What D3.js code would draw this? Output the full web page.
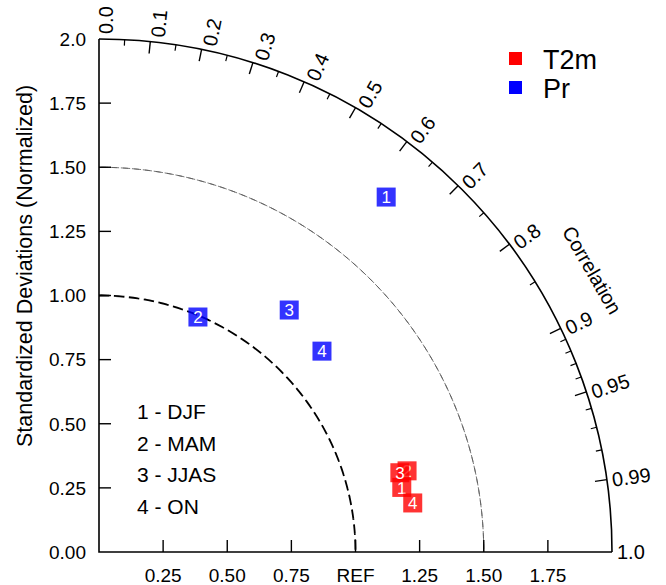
<!DOCTYPE html>
<html>
<head>
<meta charset="utf-8">
<script src="https://cdn.jsdelivr.net/npm/d3@7"></script>
<style>
  html, body { margin: 0; padding: 0; background: #fff; }
  svg { display: block; font-family: "Liberation Sans", Arial, sans-serif; }
</style>
</head>
<body>
<svg id="chart" width="666" height="585"></svg>
<script>
// taylor diagram data: normalized std dev + correlation per season
var seasons = ["1", "2", "3", "4"];
var seasonNames = ["1 - DJF", "2 - MAM", "3 - JJAS", "4 - ON"];
var t2mStd = [1.207, 1.242, 1.213, 1.238];
var t2mCor = [0.978, 0.967, 0.967, 0.988];
var prStd = [1.780, 0.994, 1.200, 1.170];
var prCor = [0.629, 0.388, 0.618, 0.743];
var seriesNames = ["T2m", "Pr"];
var seriesColors = ["#ff0000", "#0000ff"];

var stdTicks = [0.25, 0.5, 0.75, 1.0, 1.25, 1.5, 1.75];
var yTickLabels = ["0.00", "0.25", "0.50", "0.75", "1.00", "1.25", "1.50", "1.75", "2.0"];
var xTickLabels = ["0.25", "0.50", "0.75", "REF", "1.25", "1.50", "1.75"];
var corMajor = [0.0, 0.1, 0.2, 0.3, 0.4, 0.5, 0.6, 0.7, 0.8, 0.9, 0.95, 0.99, 1.0];
var corMajorLabels = ["0.0", "0.1", "0.2", "0.3", "0.4", "0.5", "0.6", "0.7", "0.8", "0.9", "0.95", "0.99", "1.0"];
var corMinor = [0.05, 0.15, 0.25, 0.35, 0.45, 0.55, 0.65, 0.75, 0.85, 0.91, 0.92, 0.93, 0.94, 0.96, 0.97, 0.98];
var refArcs = [1.0, 1.5];

var svg = d3.select("#chart");
var ox = 99, oy = 552, maxStd = 2.0;
var r = d3.scaleLinear().domain([0, maxStd]).range([0, 513]);
var xs = d3.scaleLinear().domain([0, maxStd]).range([ox, ox + 513]);
var ys = d3.scaleLinear().domain([0, maxStd]).range([oy, oy - 513]);

function px(s, c) { return ox + r(s) * c; }
function py(s, c) { return oy - r(s) * Math.sqrt(1 - c * c); }

var g = svg.append("g");

// dashed std-dev arcs
var arc = d3.arc().startAngle(0).endAngle(Math.PI / 2);
g.selectAll("path.ref").data(refArcs).enter().append("path")
  .attr("class", "ref")
  .attr("transform", "translate(" + ox + "," + oy + ")")
  .attr("d", function(d) { return arc({innerRadius: r(d), outerRadius: r(d)}); })
  .attr("fill", "none")
  .attr("stroke", function(d) { return d == 1 ? "#000" : "#555"; })
  .attr("stroke-width", function(d) { return d == 1 ? 1.8 : 0.8; })
  .attr("stroke-dasharray", function(d) { return d == 1 ? "9,6" : "7,4"; });

// frame: left axis, bottom axis, outer arc
g.append("path")
  .attr("d", "M" + xs(0) + "," + ys(maxStd) + "L" + xs(0) + "," + ys(0) + "L" + xs(maxStd) + "," + ys(0))
  .attr("fill", "none").attr("stroke", "#000").attr("stroke-width", 1.6);
g.append("path")
  .attr("transform", "translate(" + ox + "," + oy + ")")
  .attr("d", arc({innerRadius: r(maxStd), outerRadius: r(maxStd)}))
  .attr("fill", "none").attr("stroke", "#000").attr("stroke-width", 1.6);

// y ticks + labels
g.selectAll("line.yt").data(stdTicks).enter().append("line")
  .attr("x1", xs(0)).attr("x2", xs(0) + 12)
  .attr("y1", function(d) { return ys(d); }).attr("y2", function(d) { return ys(d); })
  .attr("stroke", "#000").attr("stroke-width", 1.4);
g.selectAll("text.yl").data(yTickLabels).enter().append("text")
  .attr("x", 86).attr("y", function(d, i) { return ys(i * 0.25); })
  .attr("dy", "0.36em").attr("text-anchor", "end")
  .style("font-size", "19px").text(function(d) { return d; });

// x ticks + labels
g.selectAll("line.xt").data(stdTicks).enter().append("line")
  .attr("x1", function(d) { return xs(d); }).attr("x2", function(d) { return xs(d); })
  .attr("y1", ys(0)).attr("y2", ys(0) - 12)
  .attr("stroke", "#000").attr("stroke-width", 1.4);
g.selectAll("text.xl").data(xTickLabels).enter().append("text")
  .attr("x", function(d, i) { return xs(stdTicks[i]); }).attr("y", 582)
  .attr("text-anchor", "middle")
  .style("font-size", "19px").text(function(d) { return d; });

// correlation ticks (inward from outer arc)
function corTick(c, len) {
  var a = Math.acos(c);
  return "M" + (ox + r(maxStd) * Math.cos(a)) + "," + (oy - r(maxStd) * Math.sin(a)) +
    "L" + (ox + (r(maxStd) - len) * Math.cos(a)) + "," + (oy - (r(maxStd) - len) * Math.sin(a));
}
g.selectAll("path.cmaj").data(corMajor.slice(1, -1)).enter().append("path")
  .attr("d", function(d) { return corTick(d, 12); })
  .attr("stroke", "#000").attr("stroke-width", 1.4);
g.selectAll("path.cmin").data(corMinor).enter().append("path")
  .attr("d", function(d) { return corTick(d, 6); })
  .attr("stroke", "#000").attr("stroke-width", 1.2);

// correlation labels, rotated along the radius
g.selectAll("text.cl").data(corMajor).enter().append("text")
  .attr("transform", function(d) {
    var a = Math.acos(d), rr = r(maxStd) + 5;
    return "translate(" + (ox + rr * Math.cos(a)) + "," + (oy - rr * Math.sin(a)) + ") rotate(" + (-a * 180 / Math.PI) + ")";
  })
  .attr("dy", function(d) { return (7 + 7 * Math.sin(Math.acos(d))) + "px"; })
  .style("font-size", "20px")
  .text(function(d, i) { return corMajorLabels[i]; });

g.append("text")
  .attr("transform", "translate(592,270) rotate(60)")
  .attr("text-anchor", "middle").attr("dy", "0.35em")
  .style("font-size", "20px").text("Correlation");

g.append("text")
  .attr("transform", "translate(32,266) rotate(-90)")
  .attr("text-anchor", "middle")
  .style("font-size", "21.5px").text("Standardized Deviations (Normalized)");

// markers
var markers = [];
seasons.forEach(function(s, i) {
  markers.push({label: s, std: t2mStd[i], cor: t2mCor[i], color: seriesColors[0]});
});
seasons.forEach(function(s, i) {
  markers.push({label: s, std: prStd[i], cor: prCor[i], color: seriesColors[1]});
});
var mk = g.selectAll("g.mk").data(markers).enter().append("g")
  .attr("transform", function(d) { return "translate(" + px(d.std, d.cor) + "," + py(d.std, d.cor) + ")"; });
mk.append("rect")
  .attr("x", -9.5).attr("y", -9.5).attr("width", 19).attr("height", 19)
  .attr("fill", function(d) { return d.color; }).attr("fill-opacity", 0.8);
mk.append("text")
  .attr("text-anchor", "middle").attr("dy", "0.37em")
  .attr("fill", "#fff").style("font-size", "17px")
  .text(function(d) { return d.label; });

// season key
g.selectAll("text.key").data(seasonNames).enter().append("text")
  .attr("x", 137).attr("y", function(d, i) { return 419 + i * 31.5; })
  .style("font-size", "21px").text(function(d) { return d; });

// legend
var lg = g.selectAll("g.lg").data(seriesNames).enter().append("g")
  .attr("transform", function(d, i) { return "translate(509," + (52 + i * 29) + ")"; });
lg.append("rect").attr("width", 13).attr("height", 13)
  .attr("fill", function(d, i) { return seriesColors[i]; });
lg.append("text").attr("x", 34).attr("y", 17)
  .style("font-size", "27px").text(function(d) { return d; });
</script>
</body>
</html>
